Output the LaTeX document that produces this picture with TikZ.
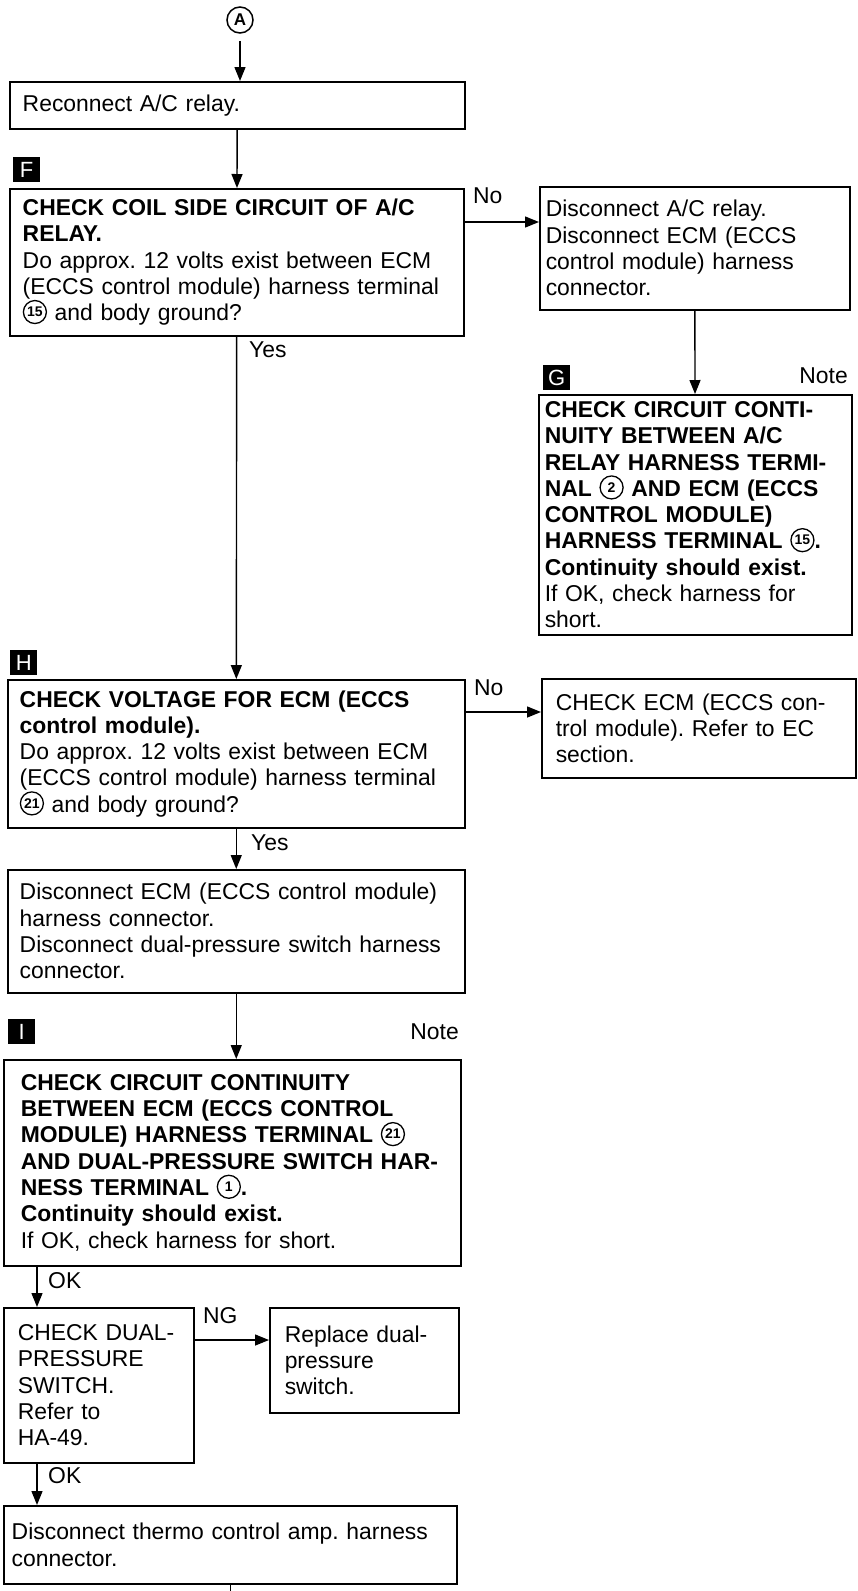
\documentclass[tikz,border=0pt]{standalone}
\usepackage{fontspec}
\setmainfont{Liberation Sans}
\usetikzlibrary{arrows.meta}
\frenchspacing

\newcommand\txt{\fontsize{22.9}{26.3}\selectfont}
% circled terminal number
\newcommand\cnum[1]{\tikz[baseline={([yshift=-4pt]n.base)}]\node[circle,draw,line width=1.3pt,inner sep=0pt,minimum size=23pt,font=\fontsize{14}{14}\selectfont\bfseries](n){#1};}

\tikzset{
  stepbox/.style={draw, line width=1.5pt, anchor=north west, align=left, inner ysep=0pt, font=\txt},
  tagbox/.style={fill=black, text=white, anchor=north west, minimum width=27pt, minimum height=25pt, inner sep=0pt, font=\fontsize{22}{22}\selectfont},
  arr/.style={line width=1.4pt, -{Triangle[length=14pt,width=11pt]}},
  lbl/.style={anchor=base west, font=\txt, inner sep=0pt},
}

\begin{document}
\begin{tikzpicture}[x=1pt,y=-1pt]
\useasboundingbox (0,0) rectangle (858,1591);

\node[circle, draw, line width=1.5pt, minimum size=26pt, inner sep=0pt, font=\fontsize{17}{17}\selectfont\bfseries] (cA) at (240,20) {A};

\node[stepbox, inner xsep=13pt, text width=429pt, minimum height=47pt] (relay) at (9,81) {Reconnect A/C relay.};

% step F
\node[tagbox] (tagF) at (13,157) {F};
\node[stepbox, inner xsep=13pt, text width=428pt, minimum height=147pt] (chkF) at (9,188) {\textbf{CHECK COIL SIDE CIRCUIT OF A/C}\\\textbf{RELAY.}\\Do approx. 12 volts exist between ECM\\(ECCS control module) harness terminal\\\cnum{15} and body ground?};
\node[stepbox, inner xsep=6pt, text width=298pt, minimum height=123pt] (discA) at (539,186) {Disconnect A/C relay.\\Disconnect ECM (ECCS\\control module) harness\\connector.};

% step G
\node[tagbox] (tagG) at (543,365) {G};
\node[anchor=base east, font=\txt, inner sep=0pt] (noteG) at (848,383) {Note};
\node[stepbox, inner xsep=6pt, text width=301pt, minimum height=240pt] (chkG) at (538,394) {\textbf{CHECK CIRCUIT CONTI-}\\\textbf{NUITY BETWEEN A/C}\\\textbf{RELAY HARNESS TERMI-}\\\textbf{NAL \cnum{2} AND ECM (ECCS}\\\textbf{CONTROL MODULE)}\\\textbf{HARNESS TERMINAL \cnum{15}.}\\\textbf{Continuity should exist.}\\If OK, check harness for\\short.};

% step H
\node[tagbox] (tagH) at (10,650) {H};
\node[stepbox, inner xsep=12pt, text width=433pt, minimum height=148pt] (chkH) at (7,679) {\textbf{CHECK VOLTAGE FOR ECM (ECCS}\\\textbf{control module).}\\Do approx. 12 volts exist between ECM\\(ECCS control module) harness terminal\\\cnum{21} and body ground?};
\node[stepbox, inner xsep=14pt, text width=286pt, minimum height=99pt] (chkECM) at (541,678) {CHECK ECM (ECCS con-\\trol module). Refer to EC\\section.};
\node[stepbox, inner xsep=12pt, text width=433pt, minimum height=123pt] (discECM) at (7,869) {Disconnect ECM (ECCS control module)\\harness connector.\\Disconnect dual-pressure switch harness\\connector.};

% step I
\node[tagbox] (tagI) at (8,1019) {I};
\node[anchor=base east, font=\txt, inner sep=0pt] (noteI) at (459,1039) {Note};
\node[stepbox, inner xsep=17pt, text width=423pt, minimum height=206pt] (chkI) at (3,1059) {\textbf{CHECK CIRCUIT CONTINUITY}\\\textbf{BETWEEN ECM (ECCS CONTROL}\\\textbf{MODULE) HARNESS TERMINAL \cnum{21}}\\\textbf{AND DUAL-PRESSURE SWITCH HAR-}\\\textbf{NESS TERMINAL \cnum{1}.}\\\textbf{Continuity should exist.}\\If OK, check harness for short.};
\node[stepbox, inner xsep=14pt, text width=162pt, minimum height=155pt] (dual) at (3,1307) {CHECK DUAL-\\PRESSURE\\SWITCH.\\Refer to\\HA-49.};
\node[stepbox, inner xsep=15pt, text width=159pt, minimum height=105pt] (replace) at (269,1307) {Replace dual-\\pressure\\switch.};
\node[stepbox, inner xsep=8pt, text width=437pt, minimum height=78pt] (thermo) at (3,1505) {Disconnect thermo control amp. harness\\connector.};
\coordinate (bottom) at (0,1591);

% connectors
\draw[arr, shorten <=7pt] (cA.south) -- (cA.south |- relay.north);
\draw[arr] (relay) -- (chkF);
\draw[arr] ([yshift=-34pt]chkF.north east) -- ([yshift=-34pt]chkF.north east -| discA.west);
\node[lbl] (noF) at (473,203) {No};
\draw[arr] (chkF) -- (chkH);
\node[lbl] (yesF) at (249,357) {Yes};
\draw[arr] (discA) -- (chkG);
\draw[arr] ([yshift=-33pt]chkH.north east) -- ([yshift=-33pt]chkH.north east -| chkECM.west);
\node[lbl] (noH) at (474,695) {No};
\draw[arr] (chkH) -- (discECM);
\node[lbl] (yesH) at (251,850) {Yes};
\draw[arr] (discECM.south) -- (discECM.south |- chkI.north);
\draw[arr] ([xshift=34pt]chkI.south west) -- ([xshift=34pt]chkI.south west |- dual.north);
\node[lbl] (okI) at (48,1288) {OK};
\draw[arr] ([yshift=-33pt]dual.north east) -- ([yshift=-33pt]dual.north east -| replace.west);
\node[lbl] (ngD) at (203,1323) {NG};
\draw[arr] ([xshift=34pt]dual.south west) -- ([xshift=34pt]dual.south west |- thermo.north);
\node[lbl] (okD) at (48,1483) {OK};
\draw[line width=1.4pt] (thermo.south) -- (thermo.south |- bottom);
\end{tikzpicture}
\end{document}
